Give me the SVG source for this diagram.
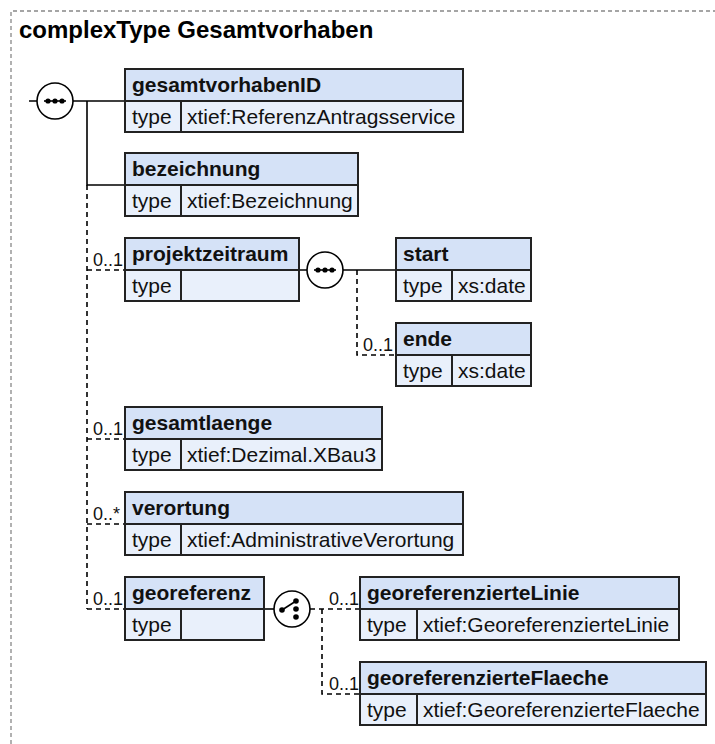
<svg xmlns="http://www.w3.org/2000/svg" width="715" height="744" viewBox="0 0 715 744">
<style>
.h{fill:#d5e2f7;stroke:#222;stroke-width:2}
.r{fill:#e9f0fb;stroke:#222;stroke-width:2}
.dv{stroke:#222;stroke-width:2}
.nm{font-family:"Liberation Sans",Arial,sans-serif;font-weight:bold;font-size:21px;fill:#111}
.tx{font-family:"Liberation Sans",Arial,sans-serif;font-size:21px;fill:#111}
.lb{font-family:"Liberation Sans",Arial,sans-serif;font-size:18px;fill:#111}
.ti{font-family:"Liberation Sans",Arial,sans-serif;font-weight:bold;font-size:24px;fill:#000}
.s{stroke:#000;stroke-width:1.6;fill:none}
.d{stroke:#000;stroke-width:1.6;fill:none;stroke-dasharray:5,4}
.c{fill:#fff;stroke:#000;stroke-width:1.6}
.dot{fill:#000}
.bd{stroke:#888;stroke-width:1.3;fill:none;stroke-dasharray:4,3}
</style>
<g id="frame">
<path class="bd" d="M11,744 V11 H715"/>
<text class="ti" x="19" y="38">complexType Gesamtvorhaben</text>
</g>
<g id="connectors">
<path class="s" d="M29,101 H37 M73,101 H125 M87,101 V185 H125"/>
<path class="d" d="M87,185 V609 M87,270 H125 M87,439 H125 M87,524 H125 M87,609 H125"/>
<path class="s" d="M299,270 H307 M343,270 H396"/>
<path class="d" d="M357,270 V355 H396"/>
<path class="s" d="M264,609 H274"/>
<path class="d" d="M310,609 H360 M322,609 V694 H360"/>
<text class="lb" x="93" y="266">0..1</text>
<text class="lb" x="93" y="435">0..1</text>
<text class="lb" x="93" y="520">0..*</text>
<text class="lb" x="93" y="605">0..1</text>
<text class="lb" x="363" y="351">0..1</text>
<text class="lb" x="329" y="605">0..1</text>
<text class="lb" x="329" y="690">0..1</text>
</g>
<g id="seq-main">
<circle class="c" cx="55" cy="101" r="18"/>
<path class="s" d="M44,101 H66"/>
<circle class="dot" cx="48" cy="101" r="2.6"/><circle class="dot" cx="55" cy="101" r="2.6"/><circle class="dot" cx="62" cy="101" r="2.6"/>
</g>
<g id="seq-projektzeitraum">
<circle class="c" cx="325" cy="270" r="18"/>
<path class="s" d="M314,270 H336"/>
<circle class="dot" cx="318" cy="270" r="2.6"/><circle class="dot" cx="325" cy="270" r="2.6"/><circle class="dot" cx="332" cy="270" r="2.6"/>
</g>
<g id="choice-georeferenz">
<circle class="c" cx="292" cy="609" r="18"/>
<path class="s" d="M282,610 L296,601"/>
<circle class="dot" cx="282" cy="610" r="2.8"/><circle class="dot" cx="296" cy="601" r="2.8"/><circle class="dot" cx="296" cy="609" r="2.8"/><circle class="dot" cx="296" cy="617" r="2.8"/>
</g>
<g id="n-gesamtvorhabenID">
<rect class="h" x="125" y="69" width="338" height="32"/><rect class="r" x="125" y="101" width="338" height="31"/>
<line class="dv" x1="181" y1="101" x2="181" y2="132"/>
<text class="nm" x="132" y="92">gesamtvorhabenID</text><text class="tx" x="132" y="124">type</text><text class="tx" x="187" y="124">xtief:ReferenzAntragsservice</text>
</g>
<g id="n-bezeichnung">
<rect class="h" x="125" y="153" width="233" height="32"/><rect class="r" x="125" y="185" width="233" height="31"/>
<line class="dv" x1="181" y1="185" x2="181" y2="216"/>
<text class="nm" x="132" y="176">bezeichnung</text><text class="tx" x="132" y="208">type</text><text class="tx" x="187" y="208">xtief:Bezeichnung</text>
</g>
<g id="n-projektzeitraum">
<rect class="h" x="125" y="238" width="174" height="32"/><rect class="r" x="125" y="270" width="174" height="31"/>
<line class="dv" x1="181" y1="270" x2="181" y2="301"/>
<text class="nm" x="132" y="261">projektzeitraum</text><text class="tx" x="132" y="293">type</text>
</g>
<g id="n-start">
<rect class="h" x="396" y="238" width="135" height="32"/><rect class="r" x="396" y="270" width="135" height="31"/>
<line class="dv" x1="452" y1="270" x2="452" y2="301"/>
<text class="nm" x="403" y="261">start</text><text class="tx" x="403" y="293">type</text><text class="tx" x="458" y="293">xs:date</text>
</g>
<g id="n-ende">
<rect class="h" x="396" y="323" width="135" height="32"/><rect class="r" x="396" y="355" width="135" height="31"/>
<line class="dv" x1="452" y1="355" x2="452" y2="386"/>
<text class="nm" x="403" y="346">ende</text><text class="tx" x="403" y="378">type</text><text class="tx" x="458" y="378">xs:date</text>
</g>
<g id="n-gesamtlaenge">
<rect class="h" x="125" y="407" width="257" height="32"/><rect class="r" x="125" y="439" width="257" height="31"/>
<line class="dv" x1="181" y1="439" x2="181" y2="470"/>
<text class="nm" x="132" y="430">gesamtlaenge</text><text class="tx" x="132" y="462">type</text><text class="tx" x="187" y="462">xtief:Dezimal.XBau3</text>
</g>
<g id="n-verortung">
<rect class="h" x="125" y="492" width="338" height="32"/><rect class="r" x="125" y="524" width="338" height="31"/>
<line class="dv" x1="181" y1="524" x2="181" y2="555"/>
<text class="nm" x="132" y="515">verortung</text><text class="tx" x="132" y="547">type</text><text class="tx" x="187" y="547">xtief:AdministrativeVerortung</text>
</g>
<g id="n-georeferenz">
<rect class="h" x="125" y="577" width="139" height="32"/><rect class="r" x="125" y="609" width="139" height="31"/>
<line class="dv" x1="181" y1="609" x2="181" y2="640"/>
<text class="nm" x="132" y="600">georeferenz</text><text class="tx" x="132" y="632">type</text>
</g>
<g id="n-georeferenzierteLinie">
<rect class="h" x="360" y="577" width="319" height="32"/><rect class="r" x="360" y="609" width="319" height="31"/>
<line class="dv" x1="417" y1="609" x2="417" y2="640"/>
<text class="nm" x="367" y="600">georeferenzierteLinie</text><text class="tx" x="367" y="632">type</text><text class="tx" x="423" y="632">xtief:GeoreferenzierteLinie</text>
</g>
<g id="n-georeferenzierteFlaeche">
<rect class="h" x="360" y="662" width="346" height="32"/><rect class="r" x="360" y="694" width="346" height="31"/>
<line class="dv" x1="417" y1="694" x2="417" y2="725"/>
<text class="nm" x="367" y="685">georeferenzierteFlaeche</text><text class="tx" x="367" y="717">type</text><text class="tx" x="423" y="717">xtief:GeoreferenzierteFlaeche</text>
</g>
</svg>
